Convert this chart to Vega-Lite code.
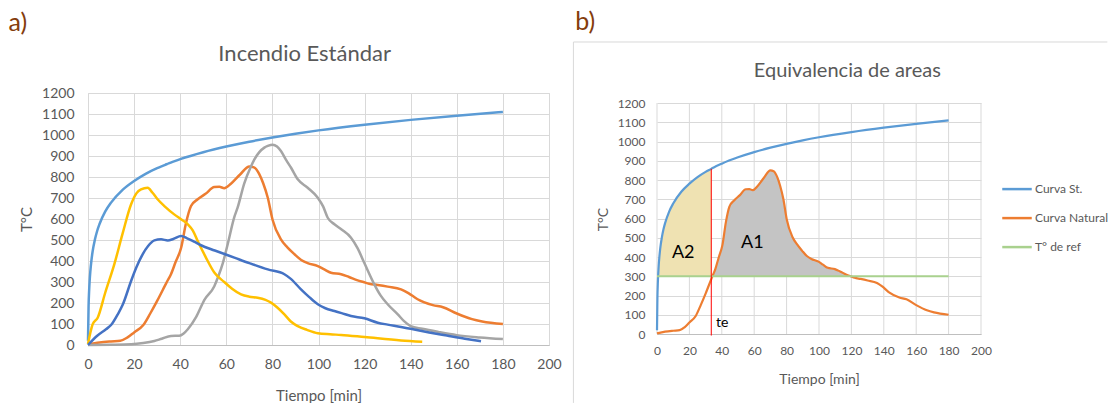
{
  "$schema": "https://vega.github.io/schema/vega-lite/v6.json",
  "padding": 0,
  "background": "white",
  "spacing": 108,
  "bounds": "flush",
  "config": {
    "font": "Lato",
    "axis": {"ticks": false, "labelColor": "#595959", "titleColor": "#595959", "titleFontWeight": 400, "gridColor": "#d9d9d9", "gridWidth": 1, "domainColor": "#bfbfbf", "labelFlush": false, "labelOverlap": false, "labelFont": "Lato", "titleFont": "Lato"},
    "axisY": {"domain": false}
  },
  "resolve": {"scale": {"color": "independent", "x": "independent", "y": "independent"}, "legend": {"color": "independent"}},
  "datasets": {
    "curvas": [
      {"s": "Curva St.", "t": 0, "v": 20}, {"s": "Curva St.", "t": 0.25, "v": 185}, {"s": "Curva St.", "t": 0.5, "v": 261}, {"s": "Curva St.", "t": 0.685, "v": 300}, {"s": "Curva St.", "t": 1, "v": 349}, {"s": "Curva St.", "t": 1.5, "v": 404}, {"s": "Curva St.", "t": 2, "v": 445}, {"s": "Curva St.", "t": 3, "v": 502}, {"s": "Curva St.", "t": 4, "v": 544}, {"s": "Curva St.", "t": 5, "v": 576}, {"s": "Curva St.", "t": 7.5, "v": 636}, {"s": "Curva St.", "t": 10, "v": 678}, {"s": "Curva St.", "t": 15, "v": 739}, {"s": "Curva St.", "t": 20, "v": 781}, {"s": "Curva St.", "t": 25, "v": 815}, {"s": "Curva St.", "t": 30, "v": 842}, {"s": "Curva St.", "t": 33.5, "v": 858}, {"s": "Curva St.", "t": 35, "v": 865}, {"s": "Curva St.", "t": 40, "v": 885}, {"s": "Curva St.", "t": 50, "v": 918}, {"s": "Curva St.", "t": 60, "v": 945}, {"s": "Curva St.", "t": 70, "v": 968}, {"s": "Curva St.", "t": 80, "v": 988}, {"s": "Curva St.", "t": 90, "v": 1006}, {"s": "Curva St.", "t": 100, "v": 1022}, {"s": "Curva St.", "t": 120, "v": 1049}, {"s": "Curva St.", "t": 140, "v": 1072}, {"s": "Curva St.", "t": 160, "v": 1092}, {"s": "Curva St.", "t": 180, "v": 1110},
      {"s": "Curva Natural", "t": 0, "v": 3}, {"s": "Curva Natural", "t": 5, "v": 12}, {"s": "Curva Natural", "t": 10, "v": 17}, {"s": "Curva Natural", "t": 14, "v": 20}, {"s": "Curva Natural", "t": 17, "v": 35}, {"s": "Curva Natural", "t": 20, "v": 60}, {"s": "Curva Natural", "t": 24, "v": 95}, {"s": "Curva Natural", "t": 27, "v": 150}, {"s": "Curva Natural", "t": 30, "v": 210}, {"s": "Curva Natural", "t": 33.5, "v": 285}, {"s": "Curva Natural", "t": 34.2, "v": 300}, {"s": "Curva Natural", "t": 36, "v": 337}, {"s": "Curva Natural", "t": 38, "v": 395}, {"s": "Curva Natural", "t": 40.4, "v": 463}, {"s": "Curva Natural", "t": 42.5, "v": 580}, {"s": "Curva Natural", "t": 44.7, "v": 662}, {"s": "Curva Natural", "t": 47.6, "v": 694}, {"s": "Curva Natural", "t": 51, "v": 720}, {"s": "Curva Natural", "t": 54.8, "v": 752}, {"s": "Curva Natural", "t": 57, "v": 753}, {"s": "Curva Natural", "t": 59.1, "v": 747}, {"s": "Curva Natural", "t": 62, "v": 768}, {"s": "Curva Natural", "t": 66, "v": 812}, {"s": "Curva Natural", "t": 70, "v": 850}, {"s": "Curva Natural", "t": 72, "v": 846}, {"s": "Curva Natural", "t": 74.3, "v": 814}, {"s": "Curva Natural", "t": 76, "v": 770}, {"s": "Curva Natural", "t": 78, "v": 701}, {"s": "Curva Natural", "t": 80.1, "v": 595}, {"s": "Curva Natural", "t": 83.7, "v": 503}, {"s": "Curva Natural", "t": 86.5, "v": 465}, {"s": "Curva Natural", "t": 89.6, "v": 432}, {"s": "Curva Natural", "t": 92.5, "v": 405}, {"s": "Curva Natural", "t": 95.3, "v": 390}, {"s": "Curva Natural", "t": 99.7, "v": 376}, {"s": "Curva Natural", "t": 102.5, "v": 360}, {"s": "Curva Natural", "t": 105.4, "v": 344}, {"s": "Curva Natural", "t": 109.8, "v": 337}, {"s": "Curva Natural", "t": 113, "v": 325}, {"s": "Curva Natural", "t": 117, "v": 308}, {"s": "Curva Natural", "t": 119.5, "v": 300}, {"s": "Curva Natural", "t": 122, "v": 292}, {"s": "Curva Natural", "t": 125.7, "v": 286}, {"s": "Curva Natural", "t": 130, "v": 278}, {"s": "Curva Natural", "t": 135.8, "v": 265}, {"s": "Curva Natural", "t": 139, "v": 247}, {"s": "Curva Natural", "t": 143, "v": 218}, {"s": "Curva Natural", "t": 149.6, "v": 190}, {"s": "Curva Natural", "t": 154, "v": 180}, {"s": "Curva Natural", "t": 160, "v": 150}, {"s": "Curva Natural", "t": 166.6, "v": 123}, {"s": "Curva Natural", "t": 171, "v": 112}, {"s": "Curva Natural", "t": 180, "v": 100},
      {"s": "Gris", "t": 0, "v": 0}, {"s": "Gris", "t": 10, "v": 1}, {"s": "Gris", "t": 18.7, "v": 3}, {"s": "Gris", "t": 24, "v": 9}, {"s": "Gris", "t": 28.8, "v": 19}, {"s": "Gris", "t": 32, "v": 30}, {"s": "Gris", "t": 36, "v": 43}, {"s": "Gris", "t": 39.6, "v": 44}, {"s": "Gris", "t": 41.5, "v": 55}, {"s": "Gris", "t": 43.3, "v": 75}, {"s": "Gris", "t": 47, "v": 135}, {"s": "Gris", "t": 50.5, "v": 215}, {"s": "Gris", "t": 54.8, "v": 280}, {"s": "Gris", "t": 56.3, "v": 320}, {"s": "Gris", "t": 58.5, "v": 390}, {"s": "Gris", "t": 60.6, "v": 480}, {"s": "Gris", "t": 63.5, "v": 610}, {"s": "Gris", "t": 64.9, "v": 654}, {"s": "Gris", "t": 67.8, "v": 770}, {"s": "Gris", "t": 70.7, "v": 850}, {"s": "Gris", "t": 72.2, "v": 884}, {"s": "Gris", "t": 76.5, "v": 940}, {"s": "Gris", "t": 78, "v": 948}, {"s": "Gris", "t": 80.1, "v": 954}, {"s": "Gris", "t": 82, "v": 945}, {"s": "Gris", "t": 83.7, "v": 924}, {"s": "Gris", "t": 86, "v": 880}, {"s": "Gris", "t": 88.1, "v": 844}, {"s": "Gris", "t": 91, "v": 789}, {"s": "Gris", "t": 95.3, "v": 749}, {"s": "Gris", "t": 99.7, "v": 701}, {"s": "Gris", "t": 102, "v": 660}, {"s": "Gris", "t": 104, "v": 606}, {"s": "Gris", "t": 106.9, "v": 575}, {"s": "Gris", "t": 110, "v": 550}, {"s": "Gris", "t": 114.1, "v": 511}, {"s": "Gris", "t": 117, "v": 460}, {"s": "Gris", "t": 119.9, "v": 390}, {"s": "Gris", "t": 124.2, "v": 289}, {"s": "Gris", "t": 127, "v": 235}, {"s": "Gris", "t": 130, "v": 194}, {"s": "Gris", "t": 134.4, "v": 146}, {"s": "Gris", "t": 137, "v": 115}, {"s": "Gris", "t": 140, "v": 90}, {"s": "Gris", "t": 145, "v": 77}, {"s": "Gris", "t": 152, "v": 62}, {"s": "Gris", "t": 160, "v": 47}, {"s": "Gris", "t": 170, "v": 36}, {"s": "Gris", "t": 180, "v": 28},
      {"s": "Amarillo", "t": 0, "v": 5}, {"s": "Amarillo", "t": 2, "v": 98}, {"s": "Amarillo", "t": 4.2, "v": 130}, {"s": "Amarillo", "t": 7.5, "v": 250}, {"s": "Amarillo", "t": 11.4, "v": 384}, {"s": "Amarillo", "t": 15, "v": 530}, {"s": "Amarillo", "t": 18.7, "v": 670}, {"s": "Amarillo", "t": 21, "v": 722}, {"s": "Amarillo", "t": 23, "v": 741}, {"s": "Amarillo", "t": 25.9, "v": 749}, {"s": "Amarillo", "t": 28, "v": 725}, {"s": "Amarillo", "t": 30.2, "v": 694}, {"s": "Amarillo", "t": 33.5, "v": 658}, {"s": "Amarillo", "t": 37.4, "v": 622}, {"s": "Amarillo", "t": 40.5, "v": 598}, {"s": "Amarillo", "t": 43.3, "v": 575}, {"s": "Amarillo", "t": 45.5, "v": 545}, {"s": "Amarillo", "t": 47.6, "v": 495}, {"s": "Amarillo", "t": 51, "v": 420}, {"s": "Amarillo", "t": 54.8, "v": 345}, {"s": "Amarillo", "t": 59.1, "v": 300}, {"s": "Amarillo", "t": 62.5, "v": 268}, {"s": "Amarillo", "t": 66.4, "v": 241}, {"s": "Amarillo", "t": 70, "v": 230}, {"s": "Amarillo", "t": 73.6, "v": 225}, {"s": "Amarillo", "t": 77, "v": 215}, {"s": "Amarillo", "t": 79.4, "v": 202}, {"s": "Amarillo", "t": 82, "v": 180}, {"s": "Amarillo", "t": 85.2, "v": 146}, {"s": "Amarillo", "t": 88, "v": 112}, {"s": "Amarillo", "t": 91, "v": 90}, {"s": "Amarillo", "t": 95, "v": 72}, {"s": "Amarillo", "t": 99.7, "v": 56}, {"s": "Amarillo", "t": 105, "v": 51}, {"s": "Amarillo", "t": 109.8, "v": 48}, {"s": "Amarillo", "t": 120, "v": 38}, {"s": "Amarillo", "t": 135.8, "v": 22}, {"s": "Amarillo", "t": 145, "v": 16},
      {"s": "Azul", "t": 0, "v": 0}, {"s": "Azul", "t": 4, "v": 44}, {"s": "Azul", "t": 7.8, "v": 75}, {"s": "Azul", "t": 10, "v": 95}, {"s": "Azul", "t": 12.9, "v": 146}, {"s": "Azul", "t": 15, "v": 190}, {"s": "Azul", "t": 18.7, "v": 305}, {"s": "Azul", "t": 21, "v": 370}, {"s": "Azul", "t": 23.7, "v": 432}, {"s": "Azul", "t": 26, "v": 470}, {"s": "Azul", "t": 28.8, "v": 498}, {"s": "Azul", "t": 31.7, "v": 503}, {"s": "Azul", "t": 34.6, "v": 498}, {"s": "Azul", "t": 37, "v": 505}, {"s": "Azul", "t": 40.4, "v": 519}, {"s": "Azul", "t": 43, "v": 508}, {"s": "Azul", "t": 46, "v": 492}, {"s": "Azul", "t": 49, "v": 475}, {"s": "Azul", "t": 55, "v": 450}, {"s": "Azul", "t": 63.5, "v": 416}, {"s": "Azul", "t": 70, "v": 390}, {"s": "Azul", "t": 78, "v": 360}, {"s": "Azul", "t": 85.2, "v": 337}, {"s": "Azul", "t": 88, "v": 315}, {"s": "Azul", "t": 92.4, "v": 265}, {"s": "Azul", "t": 96, "v": 228}, {"s": "Azul", "t": 99.7, "v": 194}, {"s": "Azul", "t": 103, "v": 175}, {"s": "Azul", "t": 106.9, "v": 162}, {"s": "Azul", "t": 110, "v": 152}, {"s": "Azul", "t": 114.1, "v": 138}, {"s": "Azul", "t": 119.9, "v": 127}, {"s": "Azul", "t": 125.7, "v": 106}, {"s": "Azul", "t": 130, "v": 97}, {"s": "Azul", "t": 135.8, "v": 86}, {"s": "Azul", "t": 140, "v": 77}, {"s": "Azul", "t": 148, "v": 60}, {"s": "Azul", "t": 155.7, "v": 45}, {"s": "Azul", "t": 163.5, "v": 30}, {"s": "Azul", "t": 170.5, "v": 18},
      {"s": "T° de ref", "t": 0, "v": 300}, {"s": "T° de ref", "t": 180, "v": 300}
    ],
    "gx": [{"t": 0}, {"t": 20}, {"t": 40}, {"t": 60}, {"t": 80}, {"t": 100}, {"t": 120}, {"t": 140}, {"t": 160}, {"t": 180}, {"t": 200}]
  },
  "hconcat": [
    {
      "width": 461,
      "height": 252,
      "view": {"stroke": "#d9d9d9"},
      "layer": [
        {
          "data": {"name": "curvas"},
          "transform": [{"filter": {"field": "s", "oneOf": ["Curva St.", "Curva Natural", "Gris", "Amarillo", "Azul"]}}],
          "mark": {"type": "line", "interpolate": "monotone", "strokeWidth": 2.5},
          "encoding": {
            "x": {"field": "t", "type": "quantitative", "scale": {"domain": [0, 200], "nice": false},
                  "axis": {"values": [0, 20, 40, 60, 80, 100, 120, 140, 160, 180, 200], "tickCount": 30, "format": "d", "labelOverlap": false, "labelFlush": false, "grid": true, "labelFontSize": 14, "labelPadding": 12, "title": "Tiempo [min]", "titleFontSize": 15, "titleFontWeight": 400, "titleY": 50, "titleBaseline": "middle"}},
            "y": {"field": "v", "type": "quantitative", "scale": {"domain": [0, 1200], "nice": false},
                  "axis": {"values": [0, 100, 200, 300, 400, 500, 600, 700, 800, 900, 1000, 1100, 1200], "tickCount": 30, "format": "d", "labelOverlap": false, "labelFlush": false, "grid": true, "labelFontSize": 14, "labelPadding": 14, "title": "T°C", "titleFontSize": 15, "titleFontWeight": 400, "titleX": -62, "titleY": 126, "titleBaseline": "middle"}},
            "color": {"field": "s", "type": "nominal", "legend": null,
                      "scale": {"domain": ["Curva St.", "Curva Natural", "Gris", "Amarillo", "Azul"], "range": ["#5b9bd5", "#ed7d31", "#a5a5a5", "#ffc000", "#4472c4"]}}
          }
        },
        {
          "data": {"values": [{"txt": "a)"}]},
          "mark": {"type": "text", "align": "left", "baseline": "alphabetic", "fontSize": 25, "color": "#843c0c"},
          "encoding": {"x": {"datum": -34.5}, "y": {"datum": 1497}, "text": {"field": "txt"}}
        },
        {
          "data": {"values": [{"txt": "Incendio Estándar"}]},
          "mark": {"type": "text", "align": "center", "baseline": "middle", "fontSize": 22, "color": "#595959"},
          "encoding": {"x": {"datum": 94}, "y": {"datum": 1385}, "text": {"field": "txt"}}
        },
        {
          "data": {"values": [{"k": 1}]},
          "mark": {"type": "rule", "strokeOpacity": 0, "strokeWidth": 0},
          "encoding": {"x": {"datum": -37.744}, "y": {"datum": 1638.1}, "y2": {"datum": -281}}
        }
      ]
    },
    {
      "width": 324,
      "height": 241,
      "view": {"stroke": null},
      "layer": [
        {
          "data": {"name": "gx"},
          "mark": {"type": "rule", "color": "#d9d9d9", "strokeWidth": 1},
          "encoding": {
            "x": {"field": "t", "type": "quantitative", "scale": {"domain": [0, 200], "nice": false},
                  "axis": {"values": [0, 20, 40, 60, 80, 100, 120, 140, 160, 180, 200], "tickCount": 30, "format": "d", "labelOverlap": false, "labelFlush": false, "grid": false, "labelFontSize": 12, "labelPadding": 11, "title": "Tiempo [min]", "titleFontSize": 14, "titleFontWeight": 400, "titleY": 45, "titleBaseline": "middle"}},
            "y": {"datum": 0},
            "y2": {"datum": 1200}
          }
        },
        {
          "data": {"name": "curvas"},
          "transform": [{"filter": "datum.s === 'Curva St.' && datum.t >= 0.685 && datum.t <= 33.5"}],
          "mark": {"type": "area", "interpolate": "monotone", "color": "#efe2b2", "opacity": 1},
          "encoding": {
            "x": {"field": "t", "type": "quantitative"},
            "y": {"field": "v", "type": "quantitative", "scale": {"domain": [0, 1252], "nice": false},
                  "axis": {"values": [0, 100, 200, 300, 400, 500, 600, 700, 800, 900, 1000, 1100, 1200], "tickCount": 30, "format": "d", "labelOverlap": false, "labelFlush": false, "grid": true, "labelFontSize": 12, "labelPadding": 12, "title": "T°C", "titleFontSize": 14, "titleFontWeight": 400, "titleX": -54, "titleY": 126, "titleBaseline": "middle"}},
            "y2": {"datum": 300}
          }
        },
        {
          "data": {"name": "curvas"},
          "transform": [{"filter": "datum.s === 'Curva Natural' && datum.t >= 34.2 && datum.t <= 119.5"}],
          "mark": {"type": "area", "interpolate": "monotone", "color": "#c4c4c4", "opacity": 1},
          "encoding": {
            "x": {"field": "t", "type": "quantitative"},
            "y": {"field": "v", "type": "quantitative"},
            "y2": {"datum": 300}
          }
        },
        {
          "data": {"name": "curvas"},
          "transform": [{"filter": {"field": "s", "oneOf": ["Curva St.", "Curva Natural", "T° de ref"]}}],
          "mark": {"type": "line", "interpolate": "monotone", "strokeWidth": 2.2},
          "encoding": {
            "x": {"field": "t", "type": "quantitative"},
            "y": {"field": "v", "type": "quantitative"},
            "color": {"field": "s", "type": "nominal",
                      "scale": {"domain": ["Curva St.", "Curva Natural", "T° de ref"], "range": ["#5b9bd5", "#ed7d31", "#a9d18e"]},
                      "legend": {"title": null, "orient": "none", "legendX": 344, "legendY": 80.1, "symbolType": "stroke", "symbolSize": 870, "symbolStrokeWidth": 2.5, "labelFontSize": 12, "labelColor": "#595959", "labelOffset": 2, "rowPadding": 7, "padding": 0}}
          }
        },
        {
          "data": {"values": [{"k": 1}]},
          "mark": {"type": "rule", "color": "#ff0000", "strokeWidth": 1},
          "encoding": {"x": {"datum": 33.5}, "y": {"datum": -8}, "y2": {"datum": 858}}
        },
        {
          "data": {"values": [{"txt": "A2"}]},
          "mark": {"type": "text", "align": "center", "baseline": "middle", "fontSize": 18, "color": "#000000"},
          "encoding": {"x": {"datum": 16.2}, "y": {"datum": 420}, "text": {"field": "txt"}}
        },
        {
          "data": {"values": [{"txt": "A1"}]},
          "mark": {"type": "text", "align": "center", "baseline": "middle", "fontSize": 18, "color": "#000000"},
          "encoding": {"x": {"datum": 58.8}, "y": {"datum": 474}, "text": {"field": "txt"}}
        },
        {
          "data": {"values": [{"txt": "te"}]},
          "mark": {"type": "text", "align": "left", "baseline": "middle", "fontSize": 14, "color": "#000000"},
          "encoding": {"x": {"datum": 36.4}, "y": {"datum": 57}, "text": {"field": "txt"}}
        },
        {
          "data": {"values": [{"txt": "Equivalencia de areas"}]},
          "mark": {"type": "text", "align": "center", "baseline": "middle", "fontSize": 20, "color": "#595959"},
          "encoding": {"x": {"datum": 117.5}, "y": {"datum": 1368}, "text": {"field": "txt"}}
        },
        {
          "data": {"values": [{"txt": "b)"}]},
          "mark": {"type": "text", "align": "left", "baseline": "alphabetic", "fontSize": 25, "color": "#843c0c"},
          "encoding": {"x": {"datum": -50.5}, "y": {"datum": 1580}, "text": {"field": "txt"}}
        },
        {
          "data": {"values": [{"k": 1}]},
          "mark": {"type": "rule", "color": "#d9d9d9", "strokeWidth": 1},
          "encoding": {"x": {"datum": -51.6}, "y": {"datum": 1517}, "y2": {"datum": -358}}
        },
        {
          "data": {"values": [{"k": 1}]},
          "mark": {"type": "rule", "color": "#d9d9d9", "strokeWidth": 1},
          "encoding": {"x": {"datum": -51.6}, "x2": {"datum": 278}, "y": {"datum": 1517}}
        }
      ]
    }
  ]
}
